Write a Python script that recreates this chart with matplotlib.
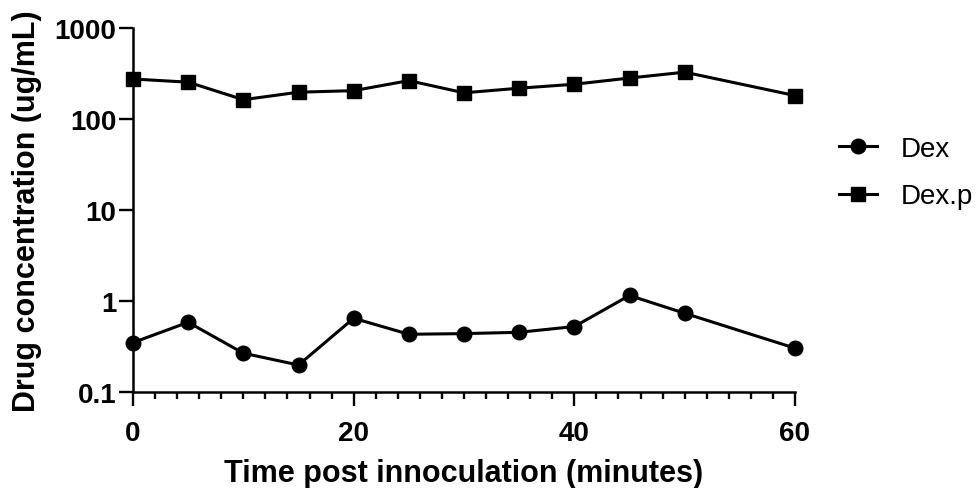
"""Drug concentration vs time post innoculation (log scale)."""

import matplotlib
matplotlib.use("Agg")
import matplotlib.pyplot as plt
from matplotlib.ticker import FixedLocator, MultipleLocator, FuncFormatter

plt.rcParams["font.family"] = ["Liberation Sans", "DejaVu Sans"]

time_min = [0, 5, 10, 15, 20, 25, 30, 35, 40, 45, 50, 60]
dex = [0.349, 0.584, 0.267, 0.198, 0.646, 0.431, 0.438, 0.453, 0.524, 1.15, 0.733, 0.303]
dex_p = [275, 254, 163, 197, 205, 264, 194, 218, 241, 282, 327, 181]

y_ticks = [0.1, 1, 10, 100, 1000]
y_tick_labels = ["0.1", "1", "10", "100", "1000"]

fig = plt.figure(figsize=(9.79, 4.89), dpi=100, facecolor="white")
ax = fig.add_axes([133 / 979, 1 - 393 / 489, (795 - 133) / 979, (393 - 29) / 489])

ax.plot(time_min, dex, color="black", linewidth=2.2, marker="o", markersize=10.5,
        label="Dex", clip_on=False, zorder=3)
ax.plot(time_min, dex_p, color="black", linewidth=2.2, marker="s", markersize=10.5,
        label="Dex.p", clip_on=False, zorder=3)

ax.set_yscale("log")
ax.set_ylim(0.1, 1000)
ax.set_xlim(0, 60)

ax.yaxis.set_major_locator(FixedLocator(y_ticks))
ax.yaxis.set_major_formatter(FuncFormatter(lambda v, i: y_tick_labels[i] if i < len(y_tick_labels) else ""))
ax.yaxis.set_minor_locator(FixedLocator([]))
ax.xaxis.set_major_locator(MultipleLocator(20))
ax.xaxis.set_minor_locator(MultipleLocator(2))

for side in ["top", "right"]:
    ax.spines[side].set_visible(False)
for side in ["left", "bottom"]:
    ax.spines[side].set_linewidth(1.8)

ax.tick_params(which="major", length=10, width=1.7, labelsize=20)
ax.tick_params(which="minor", length=5, width=1.7)
ax.tick_params(axis="y", which="major", pad=2)
ax.tick_params(axis="x", which="major", pad=10)
for lbl in ax.get_xticklabels() + ax.get_yticklabels():
    lbl.set_fontweight("bold")

ax.set_xlabel("Time post innoculation (minutes)", fontsize=22, fontweight="bold", labelpad=9)
ax.set_ylabel("Drug concentration (ug/mL)", fontsize=22, fontweight="bold", labelpad=9)

ax.legend(loc="center left", bbox_to_anchor=(839 / 979, 1 - 173.5 / 489),
          bbox_transform=fig.transFigure, frameon=False, fontsize=20,
          borderaxespad=0, borderpad=0, handlelength=1.37, handletextpad=0.85,
          labelspacing=0.78)

fig.savefig("out.png", dpi=100, facecolor="white")
